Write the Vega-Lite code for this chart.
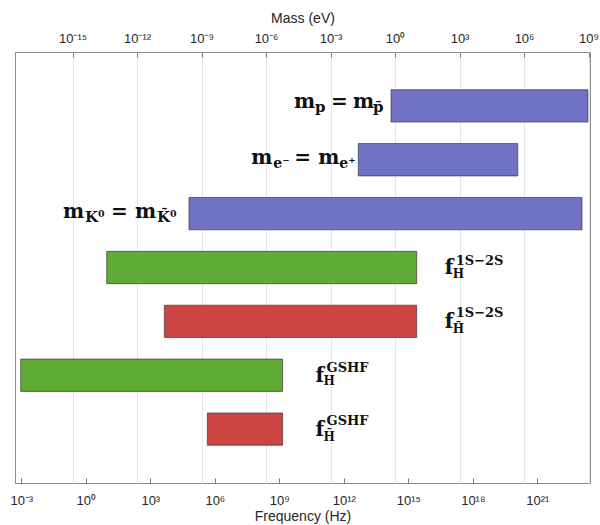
{
  "$schema": "https://vega.github.io/schema/vega-lite/v6.json",
  "width": 575,
  "height": 431,
  "autosize": "none",
  "padding": {"left": 15, "top": 52, "right": 10, "bottom": 42},
  "config": {
    "view": {"stroke": "#8c8c8c", "strokeWidth": 1},
    "axis": {
      "domain": false,
      "labelFont": "Liberation Sans",
      "labelFontSize": 13,
      "labelColor": "#262626",
      "labelFlush": false,
      "labelOverlap": false,
      "tickColor": "#777777",
      "titleFont": "Liberation Sans",
      "titleFontSize": 14,
      "titleFontWeight": "normal",
      "titleColor": "#262626"
    },
    "text": {"font": "DejaVu Serif", "fontWeight": "bold", "align": "left", "baseline": "alphabetic", "fill": "#111111"}
  },
  "data": {
    "values": [
      {"id": "p", "kind": "mass", "start": 1.567e14, "end": 2.2687e23},
      {"id": "e", "kind": "mass", "start": 4.72e12, "end": 1.2356e20},
      {"id": "K", "kind": "mass", "start": 6.31e4, "end": 1.2033e23},
      {"id": "H1S", "kind": "H", "start": 9.38, "end": 2.466e15},
      {"id": "Hb1S", "kind": "Hbar", "start": 4.48e3, "end": 2.466e15},
      {"id": "HG", "kind": "H", "start": 9.38e-4, "end": 1.4204e9},
      {"id": "HbG", "kind": "Hbar", "start": 4.48e5, "end": 1.4204e9}
    ]
  },
  "layer": [
    {
      "mark": {"type": "tick", "opacity": 0},
      "encoding": {
        "x": {
          "field": "start", "type": "quantitative",
          "scale": {"type": "log", "domain": [5.09e-4, 2.825e23], "nice": false},
          "title": "Mass (eV)",
          "axis": {
            "orient": "top",
            "values": [0.2417989, 241.7989, 2.417989e5, 2.417989e8, 2.417989e11, 2.417989e14, 2.417989e17, 2.417989e20, 2.417989e23],
            "labelExpr": "datum.value < 1 ? '10⁻¹⁵' : datum.value < 1e3 ? '10⁻¹²' : datum.value < 1e6 ? '10⁻⁹' : datum.value < 1e9 ? '10⁻⁶' : datum.value < 1e12 ? '10⁻³' : datum.value < 1e15 ? '10⁰' : datum.value < 1e18 ? '10³' : datum.value < 1e21 ? '10⁶' : '10⁹'",
            "grid": true,
            "gridColor": "#e6e6e6",
            "tickSize": -5,
            "labelPadding": 15,
            "labelBaseline": "alphabetic",
            "titleY": -30,
            "titleBaseline": "alphabetic"
          }
        },
        "y": {"field": "id", "type": "nominal", "scale": {"domain": ["p", "e", "K", "H1S", "Hb1S", "HG", "HbG"], "paddingInner": 0.4, "paddingOuter": 0.7}, "axis": null}
      }
    },
    {
      "mark": {"type": "bar", "stroke": "#333333", "strokeOpacity": 0.65, "strokeWidth": 1},
      "encoding": {
        "y": {"field": "id", "type": "nominal", "axis": null},
        "x": {
          "field": "start", "type": "quantitative",
          "title": "Frequency (Hz)",
          "axis": {
            "orient": "bottom",
            "values": [1e-3, 1, 1e3, 1e6, 1e9, 1e12, 1e15, 1e18, 1e21],
            "labelExpr": "datum.value < 0.01 ? '10⁻³' : datum.value < 10 ? '10⁰' : datum.value < 1e4 ? '10³' : datum.value < 1e7 ? '10⁶' : datum.value < 1e10 ? '10⁹' : datum.value < 1e13 ? '10¹²' : datum.value < 1e16 ? '10¹⁵' : datum.value < 1e19 ? '10¹⁸' : '10²¹'",
            "grid": false,
            "tickSize": -5,
            "labelPadding": 26,
            "labelBaseline": "alphabetic",
            "titleY": 37,
            "titleBaseline": "alphabetic"
          }
        },
        "x2": {"field": "end"},
        "color": {"field": "kind", "type": "nominal", "scale": {"domain": ["mass", "H", "Hbar"], "range": ["#7171c6", "#60aa36", "#cc4343"]}, "legend": null}
      }
    },
    {
      "encoding": {
        "x": {"field": "start", "type": "quantitative", "axis": null},
        "y": {"field": "id", "type": "nominal", "axis": null}
      },
      "layer": [
        {"transform": [{"filter": "datum.id == 'p'"}], "mark": {"type": "text", "fontSize": 20, "dx": -97, "dy": 2}, "encoding": {"text": {"value": "m"}}},
        {"transform": [{"filter": "datum.id == 'p'"}], "mark": {"type": "text", "fontSize": 15, "dx": -76, "dy": 6}, "encoding": {"text": {"value": "p"}}},
        {"transform": [{"filter": "datum.id == 'p'"}], "mark": {"type": "text", "fontSize": 20, "dx": -60, "dy": 2}, "encoding": {"text": {"value": "="}}},
        {"transform": [{"filter": "datum.id == 'p'"}], "mark": {"type": "text", "fontSize": 20, "dx": -38, "dy": 2}, "encoding": {"text": {"value": "m"}}},
        {"transform": [{"filter": "datum.id == 'p'"}], "mark": {"type": "text", "fontSize": 15, "dx": -18, "dy": 6}, "encoding": {"text": {"value": "p̄"}}},

        {"transform": [{"filter": "datum.id == 'e'"}], "mark": {"type": "text", "fontSize": 20, "dx": -107, "dy": 4}, "encoding": {"text": {"value": "m"}}},
        {"transform": [{"filter": "datum.id == 'e'"}], "mark": {"type": "text", "fontSize": 14, "dx": -85, "dy": 8}, "encoding": {"text": {"value": "e⁻"}}},
        {"transform": [{"filter": "datum.id == 'e'"}], "mark": {"type": "text", "fontSize": 20, "dx": -64, "dy": 4}, "encoding": {"text": {"value": "="}}},
        {"transform": [{"filter": "datum.id == 'e'"}], "mark": {"type": "text", "fontSize": 20, "dx": -40, "dy": 4}, "encoding": {"text": {"value": "m"}}},
        {"transform": [{"filter": "datum.id == 'e'"}], "mark": {"type": "text", "fontSize": 14, "dx": -19, "dy": 8}, "encoding": {"text": {"value": "e⁺"}}},

        {"transform": [{"filter": "datum.id == 'K'"}], "mark": {"type": "text", "fontSize": 20, "dx": -126, "dy": 4}, "encoding": {"text": {"value": "m"}}},
        {"transform": [{"filter": "datum.id == 'K'"}], "mark": {"type": "text", "fontSize": 15, "dx": -104, "dy": 8}, "encoding": {"text": {"value": "K⁰"}}},
        {"transform": [{"filter": "datum.id == 'K'"}], "mark": {"type": "text", "fontSize": 20, "dx": -78, "dy": 4}, "encoding": {"text": {"value": "="}}},
        {"transform": [{"filter": "datum.id == 'K'"}], "mark": {"type": "text", "fontSize": 20, "dx": -54, "dy": 4}, "encoding": {"text": {"value": "m"}}},
        {"transform": [{"filter": "datum.id == 'K'"}], "mark": {"type": "text", "fontSize": 15, "dx": -32, "dy": 8}, "encoding": {"text": {"value": "K̄⁰"}}}
      ]
    },
    {
      "encoding": {
        "x": {"field": "end", "type": "quantitative", "axis": null},
        "y": {"field": "id", "type": "nominal", "axis": null}
      },
      "layer": [
        {"transform": [{"filter": "datum.id == 'H1S'"}], "mark": {"type": "text", "fontSize": 20, "dx": 28, "dy": 6.5}, "encoding": {"text": {"value": "f"}}},
        {"transform": [{"filter": "datum.id == 'H1S'"}], "mark": {"type": "text", "fontSize": 12, "dx": 36, "dy": 10}, "encoding": {"text": {"value": "H"}}},
        {"transform": [{"filter": "datum.id == 'H1S'"}], "mark": {"type": "text", "fontSize": 13, "dx": 39, "dy": -3}, "encoding": {"text": {"value": "1S−2S"}}},

        {"transform": [{"filter": "datum.id == 'Hb1S'"}], "mark": {"type": "text", "fontSize": 20, "dx": 28, "dy": 6.5}, "encoding": {"text": {"value": "f"}}},
        {"transform": [{"filter": "datum.id == 'Hb1S'"}], "mark": {"type": "text", "fontSize": 12, "dx": 36, "dy": 11.5}, "encoding": {"text": {"value": "H̄"}}},
        {"transform": [{"filter": "datum.id == 'Hb1S'"}], "mark": {"type": "text", "fontSize": 13, "dx": 39, "dy": -4}, "encoding": {"text": {"value": "1S−2S"}}},

        {"transform": [{"filter": "datum.id == 'HG'"}], "mark": {"type": "text", "fontSize": 20, "dx": 33, "dy": 6.5}, "encoding": {"text": {"value": "f"}}},
        {"transform": [{"filter": "datum.id == 'HG'"}], "mark": {"type": "text", "fontSize": 12, "dx": 41, "dy": 10}, "encoding": {"text": {"value": "H"}}},
        {"transform": [{"filter": "datum.id == 'HG'"}], "mark": {"type": "text", "fontSize": 13, "dx": 44, "dy": -3}, "encoding": {"text": {"value": "GSHF"}}},

        {"transform": [{"filter": "datum.id == 'HbG'"}], "mark": {"type": "text", "fontSize": 20, "dx": 33, "dy": 6.5}, "encoding": {"text": {"value": "f"}}},
        {"transform": [{"filter": "datum.id == 'HbG'"}], "mark": {"type": "text", "fontSize": 12, "dx": 41, "dy": 11.5}, "encoding": {"text": {"value": "H̄"}}},
        {"transform": [{"filter": "datum.id == 'HbG'"}], "mark": {"type": "text", "fontSize": 13, "dx": 44, "dy": -4}, "encoding": {"text": {"value": "GSHF"}}}
      ]
    }
  ],
  "resolve": {"axis": {"x": "independent"}}
}
